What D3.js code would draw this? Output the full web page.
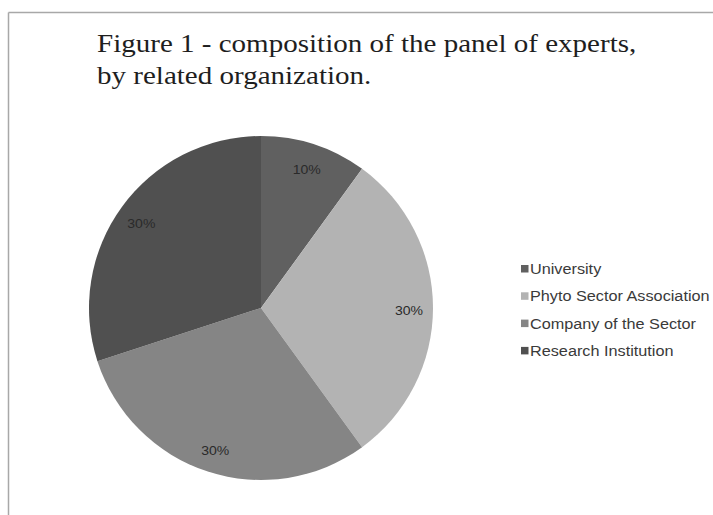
<!DOCTYPE html>
<html>
<head>
<meta charset="utf-8">
<script src="https://cdn.jsdelivr.net/npm/d3@7"></script>
<style>
  html, body { margin: 0; padding: 0; background: #fff; }
  svg { display: block; }
</style>
</head>
<body>
<svg id="chart" width="713" height="515"></svg>
<script>
// Panel of experts by related organization
const categories = ["University", "Phyto Sector Association", "Company of the Sector", "Research Institution"];
const shares = [10, 30, 30, 30];
const sliceColors = ["#606060", "#b3b3b3", "#858585", "#505050"];
const titleLines = ["Figure 1 - composition of the panel of experts,", "by related organization."];

const svg = d3.select("#chart");
const W = 713, H = 515;

// frame lines along top and left
svg.append("line").attr("x1", 8.5).attr("y1", 12.5).attr("x2", W).attr("y2", 12.5)
  .attr("stroke", "#a8a8a8").attr("stroke-width", 1.5);
svg.append("line").attr("x1", 8.5).attr("y1", 12.5).attr("x2", 8.5).attr("y2", H)
  .attr("stroke", "#a8a8a8").attr("stroke-width", 1.5);

// text in this figure is set slightly wide
function widen(sel, sx, x0) {
  sel.attr("transform", function () {
    return `translate(${x0},0) scale(${sx},1) translate(${-x0},0)`;
  });
}

// title
const title = svg.append("g").selectAll("text").data(titleLines).join("text")
  .attr("x", 97)
  .attr("y", (d, i) => 52 + i * 32)
  .attr("font-family", "'Liberation Serif', 'Times New Roman', serif")
  .attr("font-size", 26)
  .attr("fill", "#1e1e1e")
  .text(d => d);
widen(title, 1.117, 97);

// pie
const cx = 261, cy = 308, R = 172;
const color = d3.scaleOrdinal().domain(categories).range(sliceColors);
const pie = d3.pie().sort(null).value(d => d.v);
const data = categories.map((c, i) => ({ c, v: shares[i] }));
const arcs = pie(data);
const arc = d3.arc().innerRadius(0).outerRadius(R);
const labelArc = d3.arc().innerRadius(R * 0.86).outerRadius(R * 0.86);

const g = svg.append("g").attr("transform", `translate(${cx},${cy})`);
g.selectAll("path").data(arcs).join("path")
  .attr("d", arc)
  .attr("fill", d => color(d.data.c));

g.selectAll("text").data(arcs).join("text")
  .attr("transform", d => {
    const [x, y] = labelArc.centroid(d);
    return `translate(${x},${y + 2}) scale(1.08,1)`;
  })
  .attr("text-anchor", "middle")
  .attr("dy", "0.35em")
  .attr("font-family", "'Liberation Sans', Arial, sans-serif")
  .attr("font-size", 13)
  .attr("fill", "#2a2a2a")
  .text(d => d.data.v + "%");

// legend
const legend = svg.append("g").attr("transform", "translate(521,269)");
const rows = legend.selectAll("g").data(categories).join("g")
  .attr("transform", (d, i) => `translate(0,${i * 27.3})`);
rows.append("rect")
  .attr("x", 0).attr("y", -4).attr("width", 7.5).attr("height", 7.5)
  .attr("fill", d => color(d));
const legText = rows.append("text")
  .attr("x", 9)
  .attr("dy", "0.36em")
  .attr("font-family", "'Liberation Sans', Arial, sans-serif")
  .attr("font-size", 14)
  .attr("fill", "#3a3a3a")
  .text(d => d);
widen(legText, 1.16, 9);
</script>
</body>
</html>
